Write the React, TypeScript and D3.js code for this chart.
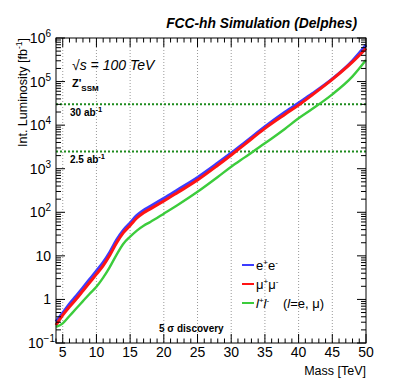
import React from "react";
import * as d3 from "d3";

const masses = [4, 5, 6, 7, 8, 9, 10, 11, 12, 13, 14, 15, 16, 17, 18, 20, 22, 25, 28, 30, 32, 35, 38, 40, 42, 45, 48, 50];
const lumiEE = [0.31, 0.49, 0.79, 1.2, 1.86, 2.9, 4.5, 7.1, 12.3, 23.4, 39, 57, 85, 112, 138, 209, 324, 630, 1350, 2290, 3980, 9230, 20000, 32400, 52500, 115000, 302000, 692000];
const lumiMuMu = [0.257, 0.437, 0.676, 1.02, 1.58, 2.45, 3.8, 6.0, 10.5, 20, 34, 50, 74, 98, 120, 182, 282, 550, 1200, 2070, 3630, 8450, 17800, 28800, 49000, 112000, 282000, 575000];
const lumiLL = [0.234, 0.282, 0.417, 0.617, 0.912, 1.35, 1.95, 3.16, 5.6, 10.7, 19, 27.5, 38, 49, 60, 93, 145, 295, 645, 1110, 1820, 3830, 8300, 14350, 23400, 51000, 132000, 313000];
const lumiRefs = [30000, 2500];
const lumiRefLabels = ["30 ab", "2.5 ab"];
const xMajorTicks = [5, 10, 15, 20, 25, 30, 35, 40, 45, 50];
const xGridTicks = [5, 10, 15, 20, 25, 30, 35, 40, 45];
const yDecades = [-1, 0, 1, 2, 3, 4, 5, 6];

const W = 399, H = 382;
const L = 56, R = 366, T = 38, B = 343;

const x = d3.scaleLinear().domain([4, 50]).range([L, R]);
const y = d3.scaleLog().domain([0.1, 1e6]).range([B, T]);

const FONT = "'Liberation Sans', Arial, Helvetica, sans-serif";
const NARROW = "'Liberation Sans Narrow', 'Liberation Sans', Arial, sans-serif";

function makeLine(vals: number[]) {
  const data = masses.map((m, i) => [m, vals[i]] as [number, number]);
  return d3.line<[number, number]>().x(d => x(d[0])).y(d => y(d[1])).curve(d3.curveMonotoneX)(data) || "";
}

export default function App() {
  const xMinor: number[] = d3.range(4, 51).filter(v => v % 5 !== 0);
  const yMinor: number[] = [];
  for (let e = -1; e < 6; e++) for (let k = 2; k <= 9; k++) yMinor.push(k * Math.pow(10, e));

  return (
    <svg width={W} height={H} style={{ position: "absolute", left: 0, top: 0, background: "#fff" }} fontFamily={FONT}>
      <rect x={0} y={0} width={W} height={H} fill="#fff" />
      {/* vertical grid */}
      {xGridTicks.map(t => (
        <line key={"g" + t} x1={x(t)} x2={x(t)} y1={T} y2={B} stroke="#999" strokeWidth={1} strokeDasharray="1,2" />
      ))}
      {/* reference lines */}
      {lumiRefs.map(v => (
        <line key={"r" + v} x1={L} x2={R} y1={y(v)} y2={y(v)} stroke="#1d8a1d" strokeWidth={2} strokeDasharray="2,2" />
      ))}
      {lumiRefLabels.map((s, i) => (
        <text key={"rl" + i} x={70} y={y(lumiRefs[i]) + 11.5} fontSize={10} fontWeight="bold" fill="#000">
          {s}
          <tspan dy={-4} fontSize={7.5}>-1</tspan>
        </text>
      ))}
      {/* curves */}
      <path d={makeLine(lumiEE)} fill="none" stroke="#3c3cff" strokeWidth={3} />
      <path d={makeLine(lumiMuMu)} fill="none" stroke="#ff1414" strokeWidth={3} />
      <path d={makeLine(lumiLL)} fill="none" stroke="#3ccc3c" strokeWidth={2.4} />
      {/* frame */}
      <rect x={L} y={T} width={R - L} height={B - T} fill="none" stroke="#000" strokeWidth={1} />
      {/* x ticks */}
      {xMajorTicks.map(t => (
        <g key={"xt" + t}>
          <line x1={x(t)} x2={x(t)} y1={B} y2={B - 9} stroke="#000" />
          <line x1={x(t)} x2={x(t)} y1={T} y2={T + 9} stroke="#000" />
          <text x={x(t)} y={357} textAnchor="middle" fontSize={14} fontFamily={NARROW}>{t}</text>
        </g>
      ))}
      {xMinor.map(t => (
        <g key={"xm" + t}>
          <line x1={x(t)} x2={x(t)} y1={B} y2={B - 4.5} stroke="#000" />
          <line x1={x(t)} x2={x(t)} y1={T} y2={T + 4.5} stroke="#000" />
        </g>
      ))}
      {/* y ticks */}
      {yDecades.map(e => (
        <g key={"yt" + e}>
          <line x1={L} x2={L + 9} y1={y(Math.pow(10, e))} y2={y(Math.pow(10, e))} stroke="#000" />
          <line x1={R} x2={R - 9} y1={y(Math.pow(10, e))} y2={y(Math.pow(10, e))} stroke="#000" />
          <text x={e === -1 ? 55 : 51} y={y(Math.pow(10, e)) + 5} textAnchor="end" fontSize={14} fontFamily={NARROW}>
            {e === 0 ? "1" : e === 1 ? "10" : (
              <>
                10<tspan dy={-6} fontSize={10}>{e === -1 ? "\u22121" : String(e)}</tspan>
              </>
            )}
          </text>
        </g>
      ))}
      {yMinor.map((v, i) => (
        <g key={"ym" + i}>
          <line x1={L} x2={L + 5} y1={y(v)} y2={y(v)} stroke="#000" />
          <line x1={R} x2={R - 5} y1={y(v)} y2={y(v)} stroke="#000" />
        </g>
      ))}
      {/* axis titles */}
      <text x={R} y={375} textAnchor="end" fontSize={12.5}>Mass [TeV]</text>
      <text transform={`translate(27,${T}) rotate(-90)`} textAnchor="end" fontSize={12.5}>
        Int. Luminosity [fb<tspan dy={-5} fontSize={8.5}>-1</tspan><tspan dy={5}>]</tspan>
      </text>
      {/* title */}
      <text x={357} y={28} textAnchor="end" fontSize={13.8} fontWeight="bold" fontStyle="italic">FCC-hh Simulation (Delphes)</text>
      {/* annotations */}
      <text x={72} y={70} fontSize={14} fontStyle="italic">{"\u221As = 100 TeV"}</text>
      <text x={72} y={87} fontSize={11} fontWeight="bold">
        Z'<tspan dy={4} fontSize={8}>SSM</tspan>
      </text>
      <text x={159} y={331.5} fontSize={10} fontWeight="bold">{"5 \u03C3 discovery"}</text>
      {/* legend */}
      <line x1={242} x2={254} y1={265} y2={265} stroke="#3c3cff" strokeWidth={2} />
      <line x1={242} x2={254} y1={284} y2={284} stroke="#ff1414" strokeWidth={2} />
      <line x1={242} x2={254} y1={303} y2={303} stroke="#3ccc3c" strokeWidth={2} />
      <text x={256} y={269.5} fontSize={13}>e<tspan dy={-5} fontSize={8}>+</tspan><tspan dy={5}>e</tspan><tspan dy={-5} fontSize={8}>-</tspan></text>
      <text x={256} y={288.5} fontSize={13}>{"\u03BC"}<tspan dy={-5} fontSize={8}>+</tspan><tspan dy={5}>{"\u03BC"}</tspan><tspan dy={-5} fontSize={8}>-</tspan></text>
      <text x={256} y={307.5} fontSize={13}>
        <tspan fontStyle="italic">l</tspan><tspan dy={-5} fontSize={8}>+</tspan><tspan dy={5} fontStyle="italic">l</tspan><tspan dy={-5} fontSize={8}>-</tspan>
        <tspan dy={5} x={283}>(</tspan><tspan fontStyle="italic">l</tspan>=e, {"\u03BC"})
      </text>
    </svg>
  );
}
